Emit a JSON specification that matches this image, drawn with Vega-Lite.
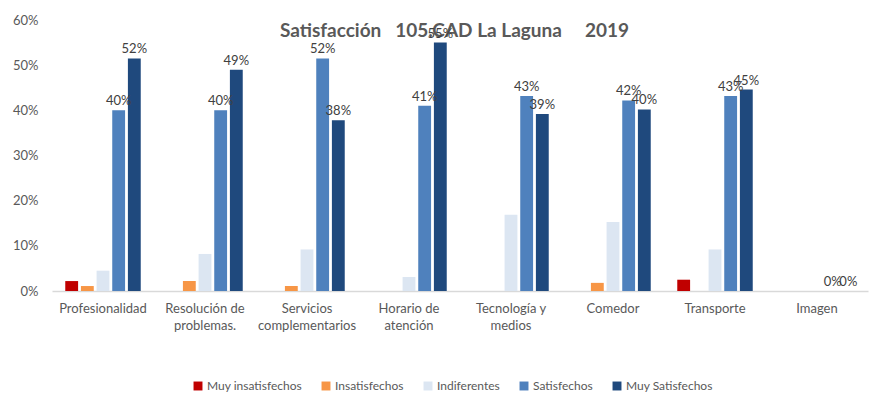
{
  "$schema": "https://vega.github.io/schema/vega-lite/v6.json",
  "width": 816,
  "height": 271,
  "autosize": {"type": "none"},
  "padding": {"left": 52, "top": 20, "right": 11, "bottom": 115},
  "background": "white",
  "data": {
    "values": [
      {"aspecto": "Profesionalidad", "grupo": "Muy insatisfechos", "valor": 0.022},
      {"aspecto": "Profesionalidad", "grupo": "Insatisfechos", "valor": 0.011},
      {"aspecto": "Profesionalidad", "grupo": "Indiferentes", "valor": 0.045},
      {"aspecto": "Profesionalidad", "grupo": "Satisfechos", "valor": 0.40},
      {"aspecto": "Profesionalidad", "grupo": "Muy Satisfechos", "valor": 0.515},
      {"aspecto": "Resolución de problemas.", "grupo": "Insatisfechos", "valor": 0.022},
      {"aspecto": "Resolución de problemas.", "grupo": "Indiferentes", "valor": 0.082},
      {"aspecto": "Resolución de problemas.", "grupo": "Satisfechos", "valor": 0.40},
      {"aspecto": "Resolución de problemas.", "grupo": "Muy Satisfechos", "valor": 0.49},
      {"aspecto": "Servicios complementarios", "grupo": "Insatisfechos", "valor": 0.011},
      {"aspecto": "Servicios complementarios", "grupo": "Indiferentes", "valor": 0.092},
      {"aspecto": "Servicios complementarios", "grupo": "Satisfechos", "valor": 0.515},
      {"aspecto": "Servicios complementarios", "grupo": "Muy Satisfechos", "valor": 0.378},
      {"aspecto": "Horario de atención", "grupo": "Indiferentes", "valor": 0.031},
      {"aspecto": "Horario de atención", "grupo": "Satisfechos", "valor": 0.41},
      {"aspecto": "Horario de atención", "grupo": "Muy Satisfechos", "valor": 0.55},
      {"aspecto": "Tecnología y medios", "grupo": "Indiferentes", "valor": 0.169},
      {"aspecto": "Tecnología y medios", "grupo": "Satisfechos", "valor": 0.432},
      {"aspecto": "Tecnología y medios", "grupo": "Muy Satisfechos", "valor": 0.392},
      {"aspecto": "Comedor", "grupo": "Insatisfechos", "valor": 0.018},
      {"aspecto": "Comedor", "grupo": "Indiferentes", "valor": 0.153},
      {"aspecto": "Comedor", "grupo": "Satisfechos", "valor": 0.422},
      {"aspecto": "Comedor", "grupo": "Muy Satisfechos", "valor": 0.402},
      {"aspecto": "Transporte", "grupo": "Muy insatisfechos", "valor": 0.025},
      {"aspecto": "Transporte", "grupo": "Indiferentes", "valor": 0.092},
      {"aspecto": "Transporte", "grupo": "Satisfechos", "valor": 0.432},
      {"aspecto": "Transporte", "grupo": "Muy Satisfechos", "valor": 0.446},
      {"aspecto": "Imagen", "grupo": "Satisfechos", "valor": 0},
      {"aspecto": "Imagen", "grupo": "Muy Satisfechos", "valor": 0}
    ]
  },
  "encoding": {
    "x": {
      "field": "aspecto",
      "type": "nominal",
      "sort": null,
      "scale": {"paddingInner": 0.26, "paddingOuter": 0.13},
      "axis": {
        "title": null,
        "labelAngle": 0,
        "labelFont": "Lato",
        "labelFontSize": 13,
        "labelColor": "#595959",
        "labelPadding": 11,
        "labelLineHeight": 17,
        "ticks": false,
        "domainColor": "#d9d9d9",
        "domainWidth": 1.5,
        "labelExpr": "indexof(datum.label, ' ') > 0 ? [slice(datum.label, 0, lastindexof(datum.label, ' ')), slice(datum.label, lastindexof(datum.label, ' ') + 1)] : datum.label"
      }
    },
    "xOffset": {
      "field": "grupo",
      "type": "nominal",
      "scale": {
        "domain": ["Muy insatisfechos", "Insatisfechos", "Indiferentes", "Satisfechos", "Muy Satisfechos"],
        "paddingInner": 0.18
      }
    },
    "y": {
      "field": "valor",
      "type": "quantitative",
      "scale": {"domain": [0, 0.6], "nice": false},
      "axis": {
        "title": "Satisfacción\u00a0\u00a0\u00a0105.CAD La Laguna\u00a0\u00a0\u00a0\u00a0\u00a02019",
        "titleAngle": 0,
        "titleX": 402,
        "titleY": 16,
        "titleAlign": "center",
        "titleBaseline": "alphabetic",
        "titleFont": "Lato",
        "titleFontSize": 19,
        "titleFontWeight": "bold",
        "titleColor": "#595959",
        "format": ".0%",
        "values": [0, 0.1, 0.2, 0.3, 0.4, 0.5, 0.6],
        "grid": false,
        "domain": false,
        "ticks": false,
        "labelPadding": 14,
        "labelFont": "Lato",
        "labelFontSize": 13,
        "labelColor": "#595959"
      }
    }
  },
  "layer": [
    {
      "mark": {"type": "bar"},
      "encoding": {
        "color": {
          "field": "grupo",
          "type": "nominal",
          "scale": {
            "domain": ["Muy insatisfechos", "Insatisfechos", "Indiferentes", "Satisfechos", "Muy Satisfechos"],
            "range": ["#C00000", "#F79646", "#DCE6F2", "#4F81BD", "#1F497D"]
          },
          "legend": {
            "title": null,
            "orient": "none",
            "direction": "horizontal",
            "legendX": 140,
            "legendY": 360,
            "symbolType": "square",
            "symbolSize": 80,
            "symbolStrokeWidth": 0,
            "symbolOffset": 0,
            "labelOffset": 3,
            "columnPadding": 18,
            "labelFont": "Lato",
            "labelFontSize": 12,
            "labelColor": "#595959"
          }
        }
      }
    },
    {
      "transform": [{"filter": "datum.grupo == 'Satisfechos' || datum.grupo == 'Muy Satisfechos'"}],
      "mark": {"type": "text", "dy": -9, "font": "Lato", "fontSize": 13, "color": "#404040"},
      "encoding": {
        "text": {"field": "valor", "type": "quantitative", "format": ".0%"}
      }
    }
  ],
  "config": {
    "view": {"stroke": null}
  }
}
